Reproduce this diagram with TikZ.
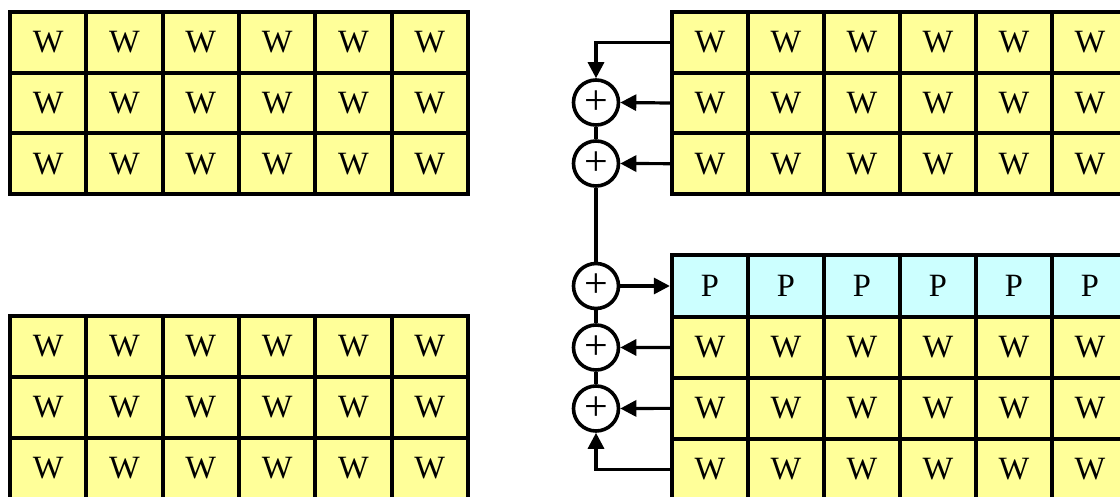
\documentclass[tikz,border=0pt]{standalone}
\usepackage{fontspec}
\setmainfont{Liberation Serif}
\usetikzlibrary{arrows.meta}
\definecolor{wyellow}{RGB}{255,255,153}
\definecolor{pcyan}{RGB}{204,255,255}
\begin{document}
\begin{tikzpicture}[x=1pt,y=-1pt,
  cellbox/.style={draw=black,line width=4pt,inner sep=0pt,
    minimum width=76.3pt,minimum height=#1,
    font=\fontsize{32.5}{32.5}\selectfont},
  cellbox/.default=60.7pt,
  wcell/.style={cellbox,fill=wyellow},
  pcell/.style={cellbox=61.5pt,fill=pcyan},
  sumnode/.style={circle,draw=black,line width=3.6pt,fill=white,inner sep=0pt,
    minimum size=45pt,font=\fontsize{42}{42}\selectfont},
  conn/.style={draw=black,line width=3.2pt},
  arr/.style={conn,-{Triangle[length=16pt,width=16pt]}}]
\clip (0,0) rectangle (1120,497);
\fill[white] (0,0) rectangle (1120,497);
% left grids and top right grid
\foreach \r in {1,2,3}{
  \foreach \c in {1,...,6}{
    \node[wcell] (TL-\r-\c) at ({10+76.33*(\c-0.5)},{12+60.67*(\r-0.5)}) {W};
    \node[wcell] (BL-\r-\c) at ({10+76.33*(\c-0.5)},{316+60.9*(\r-0.5)}) {W};
    \node[wcell] (RT-\r-\c) at ({672+76*(\c-0.5)},{12+60.67*(\r-0.5)}) {W};
  }
}
% bottom right grid
\foreach \c in {1,...,6}{
  \node[pcell] (RB-1-\c) at ({672+76*(\c-0.5)},286) {P};
  \foreach \r in {2,3,4}{
    \node[wcell] (RB-\r-\c) at ({672+76*(\c-0.5)},{317+60.9*(\r-1.5)}) {W};
  }
}
% summation nodes
\node[sumnode] (s1) at (596,102.5) {+};
\node[sumnode] (s2) at (596,163.5) {+};
\node[sumnode] (s3) at (596,286) {+};
\node[sumnode] (s4) at (596,347.5) {+};
\node[sumnode] (s5) at (596,408.5) {+};
% connectors
\draw[arr] (RT-1-1.west) -| (s1.north);
\draw[arr] (RT-2-1.west) -- (s1.east);
\draw[arr] (RT-3-1.west) -- (s2.east);
\draw[conn] (s1.south) -- (s2.north);
\draw[conn] (s2.south) -- (s3.north);
\draw[arr] (s3.east) -- (RB-1-1.west);
\draw[conn] (s3.south) -- (s4.north);
\draw[conn] (s4.south) -- (s5.north);
\draw[arr] (RB-2-1.west) -- (s4.east);
\draw[arr] (RB-3-1.west) -- (s5.east);
\draw[arr] (RB-4-1.west) -| (s5.south);
\end{tikzpicture}
\end{document}
